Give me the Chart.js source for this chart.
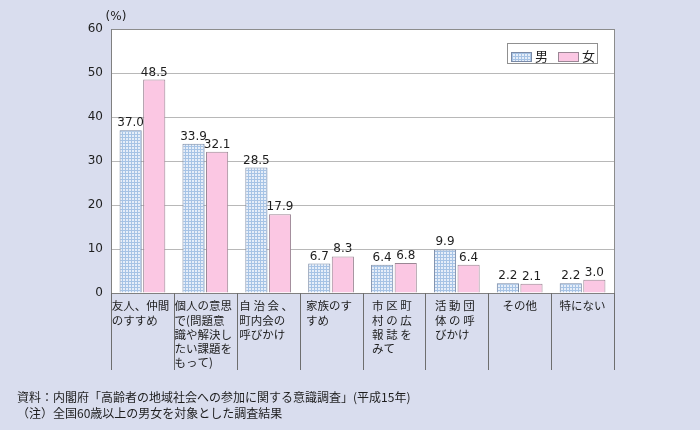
<!DOCTYPE html>
<html><head><meta charset="utf-8">
<script src="https://cdn.jsdelivr.net/npm/chart.js@4/dist/chart.umd.min.js"></script>
<style>html,body{margin:0;padding:0;background:#d9ddee;}#wrap{width:700px;height:430px;position:relative;}</style>
</head><body><div id="wrap"><canvas id="c" width="700" height="430"></canvas></div>
<script>
const categories = [
  ["友人、仲間","のすすめ"],
  ["個人の意思","で(問題意","識や解決し","たい課題を","もって)"],
  ["自 治 会 、","町内会の","呼びかけ"],
  ["家族のす","すめ"],
  ["市 区 町","村 の 広","報 誌 を","みて"],
  ["活 動 団","体 の 呼","びかけ"],
  ["その他"],
  ["特にない"]
];
const seriesNames = ["男","女"];
const maleValues = [37.0,33.9,28.5,6.7,6.4,9.9,2.2,2.2];
const femaleValues = [48.5,32.1,17.9,8.3,6.8,6.4,2.1,3.0];
const yTicks = [0,10,20,30,40,50,60];
const unitLabel = "(%)";
const footnotes = [
  "資料：内閣府「高齢者の地域社会への参加に関する意識調査」(平成15年)",
  "（注）全国60歳以上の男女を対象とした調査結果"
];

const canvas = document.getElementById('c');
const mainCtx = canvas.getContext('2d');
function makePattern(){
  const p = document.createElement('canvas'); p.width = 3; p.height = 3;
  const g = p.getContext('2d');
  g.fillStyle = '#a6c3e5'; g.fillRect(0,0,3,3);
  g.fillStyle = '#e6eef9'; g.fillRect(0,0,2,2);
  return mainCtx.createPattern(p,'repeat');
}
const malePattern = makePattern();
const maleBorder = '#7a8aa6';
const femaleFill = '#fbc7e3';
const femaleBorder = '#9a8694';
const TEXT = '#1e1e1e';
const JP = '"Noto Sans CJK JP", "Noto Sans", sans-serif';
const NUM = '"DejaVu Sans", sans-serif';

const decor = {
  id: 'decor',
  beforeDraw(chart){
    const ctx = chart.ctx, ca = chart.chartArea;
    ctx.save();
    ctx.fillStyle = '#ffffff';
    ctx.fillRect(ca.left, ca.top, ca.right - ca.left, ca.bottom - ca.top);
    ctx.restore();
  },
  afterDraw(chart){
    const ctx = chart.ctx, ca = chart.chartArea, xs = chart.scales.x;
    const n = categories.length;
    const cw = (ca.right - ca.left) / n;
    ctx.save();
    ctx.strokeStyle = '#8c8c8c'; ctx.lineWidth = 1;
    ctx.beginPath(); ctx.moveTo(Math.round(ca.right)+0.5, ca.top); ctx.lineTo(Math.round(ca.right)+0.5, ca.bottom); ctx.stroke();
    ctx.strokeStyle = '#6e6e6e';
    for(let i=0;i<=n;i++){
      const x = Math.round(xs.getPixelForValue(0) - cw/2 + i*cw) + 0.5;
      ctx.beginPath(); ctx.moveTo(x, ca.bottom); ctx.lineTo(x, ca.bottom + 77); ctx.stroke();
    }
    ctx.fillStyle = TEXT; ctx.font = '11.5px ' + JP; ctx.textBaseline = 'middle';
    categories.forEach((lines, i) => {
      const cx = xs.getPixelForValue(i);
      const w = Math.max(...lines.map(l => ctx.measureText(l).width));
      const left = cx - w/2 - 2;
      ctx.textAlign = 'left';
      lines.forEach((l, j) => ctx.fillText(l, lines.length === 1 ? cx - ctx.measureText(l).width/2 : left, ca.bottom + 13 + j*14.2));
    });
    ctx.font = '12px ' + NUM; ctx.textAlign = 'center'; ctx.textBaseline = 'alphabetic';
    chart.data.datasets.forEach((ds, di) => {
      chart.getDatasetMeta(di).data.forEach((bar, i) => {
        ctx.fillText(ds.data[i].toFixed(1), bar.x, bar.y - 4);
      });
    });
    ctx.font = '12px ' + NUM; ctx.textAlign = 'center'; ctx.textBaseline = 'middle';
    ctx.fillText(unitLabel, 116, 17);
    ctx.fillStyle = '#ffffff'; ctx.strokeStyle = '#909090';
    ctx.fillRect(507.5, 43.5, 90, 20); ctx.strokeRect(507.5, 43.5, 90, 20);
    const sw = [[511, malePattern, maleBorder],[558, femaleFill, femaleBorder]];
    ctx.font = '13px ' + JP; ctx.textAlign = 'left'; ctx.textBaseline = 'middle';
    chart.data.datasets.forEach((ds, di) => {
      const [x, fill, bc] = sw[di];
      ctx.fillStyle = fill; ctx.fillRect(x+0.5, 52.5, 20, 9);
      ctx.strokeStyle = bc; ctx.strokeRect(x+0.5, 52.5, 20, 9);
      ctx.fillStyle = TEXT; ctx.fillText(ds.label, x + 24, 56.5);
    });
    ctx.font = '12px ' + JP; ctx.fillStyle = TEXT; ctx.textAlign = 'left'; ctx.textBaseline = 'middle';
    footnotes.forEach((t, i) => ctx.fillText(t, 17, 397 + i*16));
    ctx.restore();
  }
};

new Chart(canvas, {
  type: 'bar',
  data: {
    labels: categories.map(c => c.join('')),
    datasets: [
      {label: seriesNames[0], data: maleValues, backgroundColor: malePattern, borderColor: maleBorder, borderWidth: 1},
      {label: seriesNames[1], data: femaleValues, backgroundColor: femaleFill, borderColor: femaleBorder, borderWidth: 1}
    ]
  },
  options: {
    responsive: false, animation: false, devicePixelRatio: 1,
    categoryPercentage: 0.75, barPercentage: 0.94,
    layout: {padding: {top: 29, right: 86, bottom: 0, left: 0}},
    plugins: {legend: {display: false}, tooltip: {enabled: false}},
    scales: {
      x: {
        ticks: {display: false},
        grid: {display: false},
        border: {color: '#808080'},
        afterFit(s){ s.height = 137; }
      },
      y: {
        min: 0, max: 60,
        afterBuildTicks(s){ s.ticks = yTicks.map(v => ({value: v})); },
        ticks: {font: {family: 'DejaVu Sans', size: 12}, color: TEXT, padding: 8},
        grid: {color: c => c.tick && c.tick.value === 60 ? '#8c8c8c' : '#b8b8b8', drawTicks: false},
        border: {color: '#808080'},
        afterFit(s){ s.width = 111; }
      }
    }
  },
  plugins: [decor]
});
</script></body></html>
